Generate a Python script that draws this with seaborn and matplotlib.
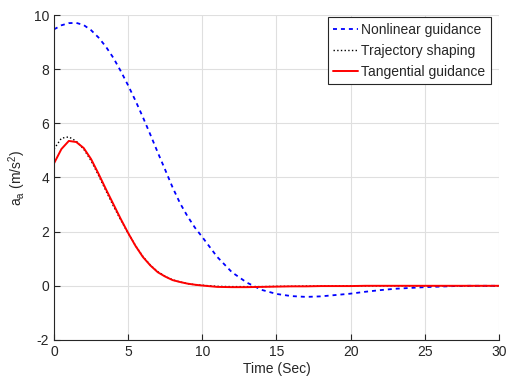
import numpy as np
import pandas as pd
import matplotlib
matplotlib.use('Agg')
import matplotlib.pyplot as plt
import seaborn as sns

# values
time = [0, 0.5, 1, 1.5, 2, 2.5, 3, 3.5, 4, 4.5, 5, 5.5, 6, 6.5, 7, 7.5, 8, 8.5, 9, 9.5,
        10, 11, 12, 13, 14, 15, 16, 17, 18, 19, 20, 21, 22, 23, 24, 25, 26, 27, 28, 29, 30]

nonlinear = [9.47, 9.62, 9.70, 9.71, 9.63, 9.44, 9.17, 8.83, 8.42, 7.93, 7.40, 6.83, 6.22,
             5.58, 4.92, 4.28, 3.63, 3.05, 2.57, 2.15, 1.80, 1.07, 0.50, 0.12, -0.15, -0.30,
             -0.38, -0.41, -0.39, -0.34, -0.29, -0.22, -0.16, -0.11, -0.08, -0.05, -0.03,
             -0.01, 0.0, 0.0, 0.0]

traj_shaping = [5.05, 5.45, 5.50, 5.34, 5.05, 4.62, 4.08, 3.51, 2.95, 2.43, 1.94, 1.48, 1.08,
                0.76, 0.52, 0.35, 0.22, 0.14, 0.08, 0.04, 0.02, -0.02, -0.03, -0.03, -0.03,
                -0.02, -0.02, -0.01, -0.01, -0.01, 0.0, 0.0, 0.0, 0.0, 0.0, 0.0, 0.0, 0.0,
                0.0, 0.0, 0.0]

tangential = [4.52, 5.05, 5.35, 5.31, 5.09, 4.68, 4.14, 3.57, 3.02, 2.47, 1.95, 1.47, 1.06,
              0.75, 0.50, 0.34, 0.21, 0.14, 0.08, 0.04, 0.01, -0.04, -0.05, -0.05, -0.04,
              -0.03, -0.02, -0.02, -0.01, -0.01, -0.01, 0.0, 0.0, 0.0, 0.0, 0.0, 0.0, 0.0,
              0.0, 0.0, 0.0]

sns.set_style('whitegrid')
plt.rcParams['font.family'] = ['Liberation Sans', 'DejaVu Sans']
plt.rcParams['mathtext.default'] = 'regular'
plt.rcParams['axes.unicode_minus'] = False

fig = plt.figure(figsize=(5.07, 3.85), dpi=100)
ax = fig.add_axes([0.1065, 0.117, 0.8775, 0.844])

sns.lineplot(x=time, y=nonlinear, ax=ax, color='blue', linestyle=(0, (2.2, 2.2)), linewidth=1.3,
             label='Nonlinear guidance')
sns.lineplot(x=time, y=traj_shaping, ax=ax, color='black', linestyle=':', linewidth=1.0,
             label='Trajectory shaping')
sns.lineplot(x=time, y=tangential, ax=ax, color='red', linestyle='-', linewidth=1.4,
             label='Tangential guidance')

ax.set_xlim(0, 30)
ax.set_ylim(-2, 10)
ax.set_xticks([0, 5, 10, 15, 20, 25, 30])
ax.set_yticks([-2, 0, 2, 4, 6, 8, 10])
ax.grid(True, color='#dfdfdf', linewidth=0.8)
for s in ['top', 'right']:
    ax.spines[s].set_visible(False)
for s in ['left', 'bottom']:
    ax.spines[s].set_color('#262626')
    ax.spines[s].set_linewidth(0.8)
ax.tick_params(direction='in', length=4, width=0.8, colors='#262626', labelsize=10,
               left=True, bottom=True)
ax.set_xlabel('Time (Sec)', fontsize=10, color='#262626', labelpad=2)
ax.set_ylabel('a$_a$ (m/s$^2$)', fontsize=10, color='#262626', labelpad=4)

leg = ax.legend(loc='upper right', bbox_to_anchor=(0.982, 0.993), fontsize=10,
                fancybox=False, framealpha=1, edgecolor='#262626', handlelength=1.8,
                handletextpad=0.2, borderpad=0.4, labelspacing=0.5, borderaxespad=0)
leg.get_frame().set_linewidth(0.8)

fig.savefig('out.png', dpi=100)
